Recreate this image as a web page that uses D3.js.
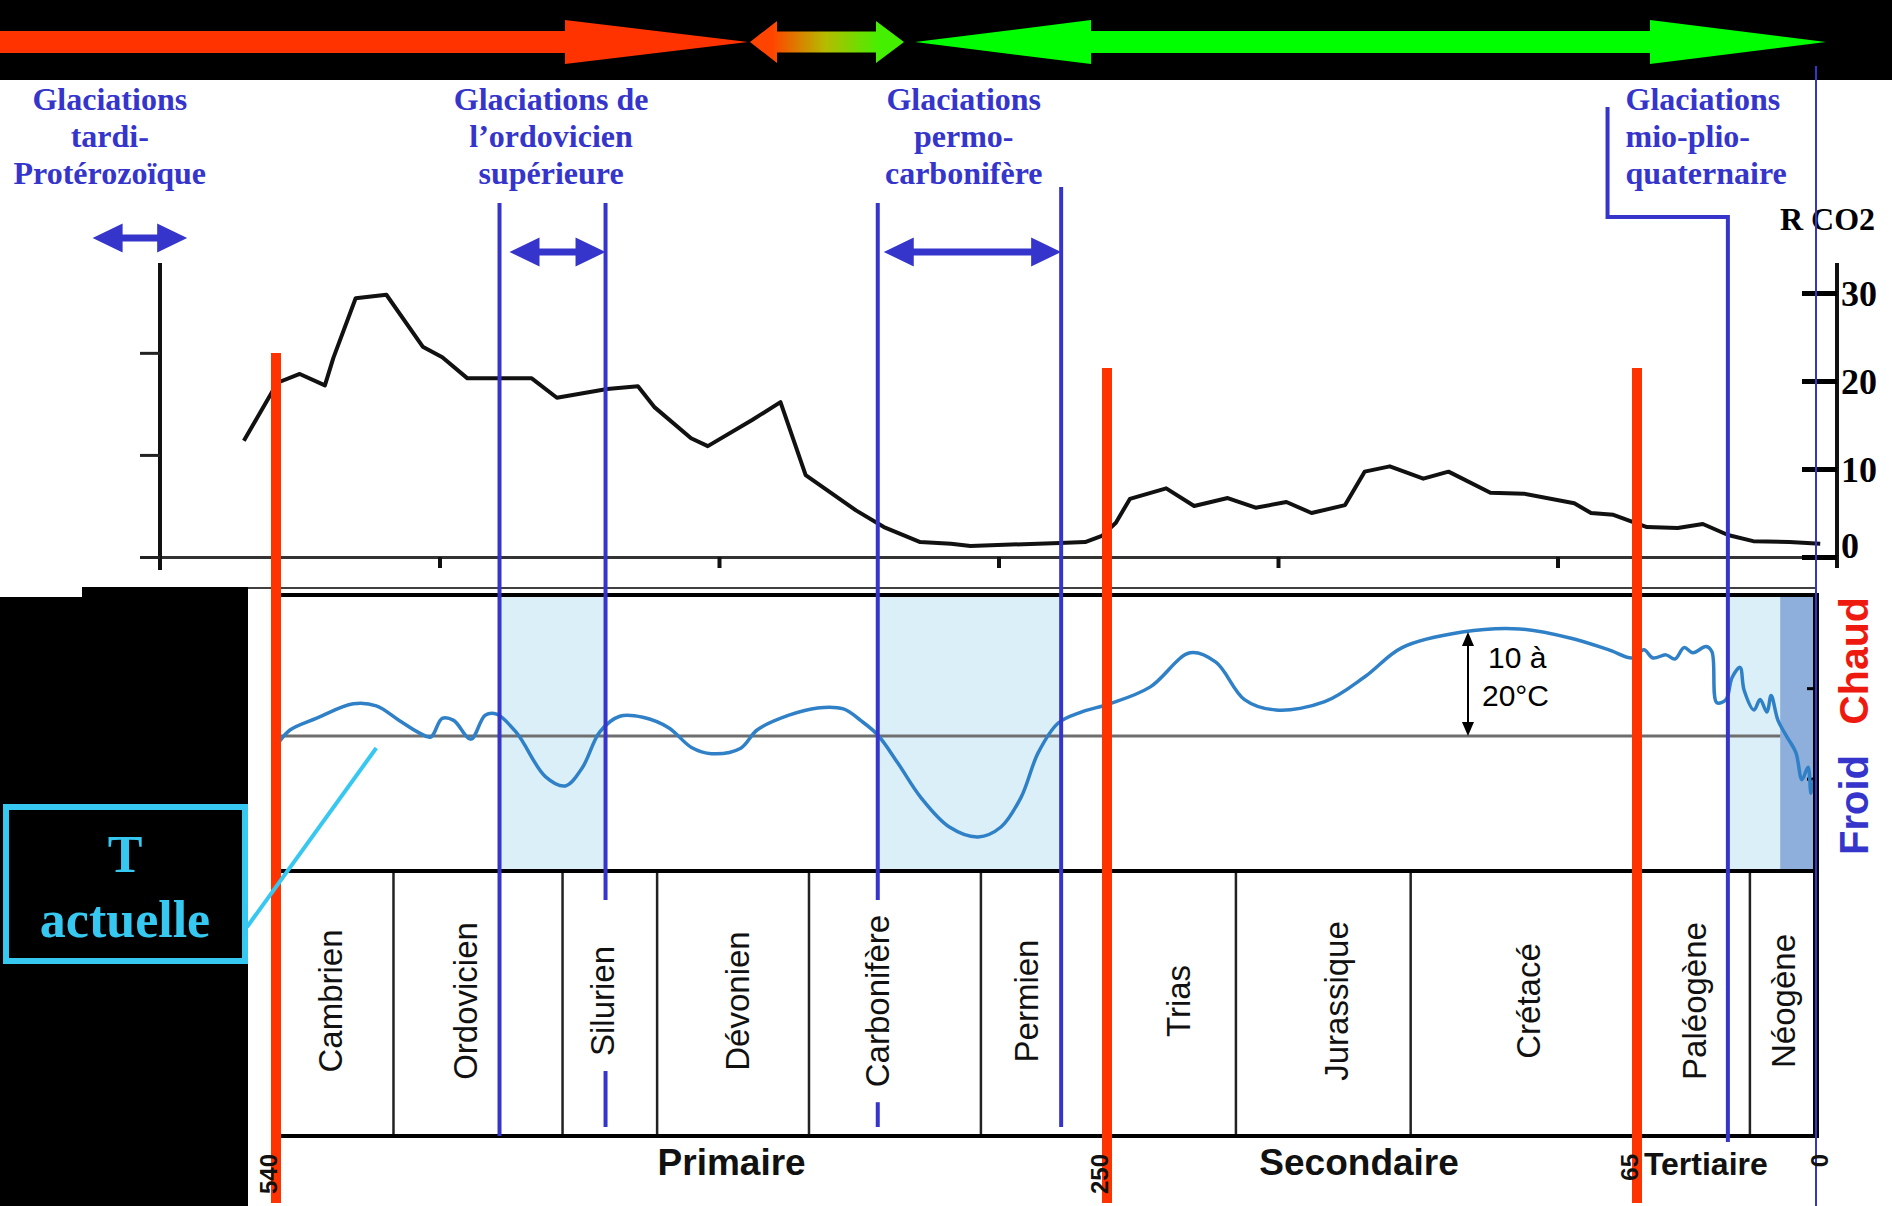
<!DOCTYPE html>
<html>
<head>
<meta charset="utf-8">
<script src="https://cdn.jsdelivr.net/npm/d3@7"></script>
<style>
body { margin: 0; background: #fff; }
svg { display: block; }
.serif { font-family: "Liberation Serif", "Times New Roman", serif; font-weight: bold; }
.sans { font-family: "Liberation Sans", Arial, sans-serif; }
</style>
</head>
<body>
<script>
// R CO2 (courbe du haut) : age en Ma et valeur
const co2Age = [570, 558, 550, 541, 538, 530, 519, 506, 499, 490, 467, 458, 440, 429, 423, 410, 404, 388, 378, 369,
	351, 341, 328, 317, 310, 278, 269, 263, 258, 253, 240, 230, 218, 208, 197, 188, 176, 169, 160, 148,
	139, 124, 112, 94, 88, 80, 68, 57, 48, 39, 30, 17, 6];
const co2Val = [13.2, 19.8, 20.8, 19.5, 22.6, 29.4, 29.8, 23.9, 22.7, 20.3, 20.3, 18.1, 19.1, 19.4, 17.0, 13.5, 12.6, 15.6, 17.6, 9.3,
	5.3, 3.4, 1.7, 1.5, 1.25, 1.6, 1.7, 2.4, 3.9, 6.6, 7.8, 5.8, 6.7, 5.6, 6.25, 5.0, 5.9, 9.7, 10.3, 8.9,
	9.7, 7.3, 7.2, 6.1, 5.0, 4.8, 3.4, 3.3, 3.75, 2.5, 1.8, 1.7, 1.5];
const co2Ticks = [0, 10, 20, 30];
const co2LeftTicks = [0, 11.6, 23.2];
const co2TimeTicks = [100, 200, 300, 400, 500];

// temperature relative a l'actuel (degres)
const tAge = [539, 535, 526, 513, 505, 497, 490, 486, 482, 478, 472, 467, 463, 456, 446, 439, 433, 427, 420, 412,
	403, 395, 388, 378, 372, 361, 351, 342, 336, 330, 323, 315, 305, 295, 287, 280, 274, 267, 259, 249,
	235, 221, 212, 202, 191, 174, 160, 147, 126, 106, 88, 75, 66.5, 62.5, 59.2, 54.5, 51.2, 47.9, 44.7, 39.9,
	37.8, 36.0, 32.7, 30.5, 27.6, 26.1, 22.5, 20.3, 17.8, 16.3, 13.8, 10.5, 7.3, 5.1, 2.9, 1.8, 0.7];
const tVal = [-0.6, 0.6, 1.7, 3.1, 2.9, 1.5, 0.3, -0.1, 1.7, 1.5, -0.3, 2.0, 2.1, 0.3, -3.9, -4.8, -3.0, 0.4, 1.9, 1.8,
	0.8, -1.1, -1.7, -1.2, 0.6, 2.0, 2.7, 2.6, 1.5, 0.1, -2.6, -5.9, -8.75, -9.7, -8.75, -5.9, -1.6, 1.25, 2.3, 3.1,
	4.7, 8.0, 7.1, 3.5, 2.5, 3.3, 5.7, 8.5, 10.0, 10.3, 9.4, 8.3, 7.5, 8.3, 7.5, 7.8, 7.4, 8.5, 8.0, 8.6,
	8.1, 3.2, 3.5, 5.6, 6.6, 4.4, 2.5, 3.5, 2.3, 3.9, 1.5, -0.1, -1.6, -4.2, -3.0, -5.5, -4.2];
const tTicks = [-4.1, 4.6];

// periodes
const periods = ['Cambrien', 'Ordovicien', 'Silurien', 'Dévonien', 'Carbonifère', 'Permien', 'Trias', 'Jurassique', 'Crétacé', 'Paléogène', 'Néogène'];
const periodBounds = [540, 499, 440, 407, 354, 294, 250, 205, 144, 65, 24, 0];
const periodLabelAge = [521, 474, 426, 379, 330, 278, 225, 170, 103, 44, 12];
const eras = ['Primaire', 'Secondaire', 'Tertiaire'];
const eraLabelAge = [381, 162, 40];
const ageMarks = [540, 250, 65, 0];
const crises = [540, 250, 65];

// glaciations
const glacNames = [['Glaciations', 'tardi-', 'Protérozoïque'], ['Glaciations de', 'l\u2019ordovicien', 'supérieure'],
	['Glaciations', 'permo-', 'carbonifère'], ['Glaciations', 'mio-plio-', 'quaternaire']];
const glacStart = [604, 462, 330, 32];
const glacEnd = [571, 425, 266, 0];
const glacLabelAge = [598, 444, 300, 69];
const coldBand = [13, 0];
const ampValue = [0, 10];
const ampAge = 124;

const W = 1892, H = 1206;
const blue = '#3535cc', red = '#ff3300';

const svg = d3.select('body').append('svg')
	.attr('width', W)
	.attr('height', H);

svg.append('rect').attr('width', W).attr('height', H).attr('fill', '#fff');
svg.append('rect').attr('width', W).attr('height', 80).attr('fill', '#000');
svg.append('rect').attr('x', 0).attr('y', 597).attr('width', 248).attr('height', H - 597).attr('fill', '#000');
svg.append('rect').attr('x', 82).attr('y', 587).attr('width', 166).attr('height', 12).attr('fill', '#000');

// echelle de temps commune (Ma)
const time = d3.scaleLinear().domain(ageMarks).range([276, 1107, 1637, 1816]);

// ---------- fleches du bandeau ----------
const defs = svg.append('defs');
const grad = defs.append('linearGradient').attr('id', 'grad')
	.attr('gradientUnits', 'userSpaceOnUse')
	.attr('x1', 772).attr('x2', 880).attr('y1', 0).attr('y2', 0);
grad.append('stop').attr('offset', 0).attr('stop-color', '#ff4400');
grad.append('stop').attr('offset', 0.5).attr('stop-color', '#b4bd00');
grad.append('stop').attr('offset', 1).attr('stop-color', '#44f000');

function arrowPts(x0, x1, yc, shaft, head, len0, len1) {
	const p = [];
	if (len0 > 0) {
		p.push([x0, yc], [x0 + len0, yc - head], [x0 + len0, yc - shaft]);
	} else {
		p.push([x0, yc - shaft]);
	}
	p.push([x1 - len1, yc - shaft], [x1 - len1, yc - head], [x1, yc], [x1 - len1, yc + head], [x1 - len1, yc + shaft]);
	if (len0 > 0) {
		p.push([x0 + len0, yc + shaft], [x0 + len0, yc + head]);
	} else {
		p.push([x0, yc + shaft]);
	}
	return p.map(function(d) { return d.join(','); }).join(' ');
}

svg.append('polygon').attr('points', arrowPts(0, 748, 42, 11, 22, 0, 183)).attr('fill', red);
svg.append('polygon').attr('points', arrowPts(750, 904, 42, 10.5, 21, 27, 28)).attr('fill', 'url(#grad)');
svg.append('polygon').attr('points', arrowPts(915, 1826, 42, 11, 22, 176, 176)).attr('fill', '#00ff00');

// ---------- graphe R CO2 ----------
const xCo2 = d3.scaleLinear().domain([600, 0]).range([160, 1837]);
const yCo2 = d3.scaleLinear().domain([0, 30]).range([557, 293]);

const xAxis = svg.append('g')
	.attr('transform', 'translate(0,' + yCo2(0) + ')')
	.call(d3.axisBottom(xCo2).tickValues(co2TimeTicks).tickSize(11).tickSizeOuter(0).tickFormat(''));
xAxis.select('.domain').attr('stroke', '#333').attr('stroke-width', 3);
xAxis.selectAll('.tick line').attr('stroke', '#111').attr('stroke-width', 4);

svg.append('line').attr('x1', xCo2(600)).attr('x2', xCo2(600)).attr('y1', 263).attr('y2', 570)
	.attr('stroke', '#111').attr('stroke-width', 4);
svg.append('line').attr('x1', xCo2(0)).attr('x2', xCo2(0)).attr('y1', 263).attr('y2', 568)
	.attr('stroke', '#111').attr('stroke-width', 4);

const leftAxis = svg.append('g')
	.attr('transform', 'translate(' + xCo2(600) + ',0)')
	.call(d3.axisLeft(yCo2).tickValues(co2LeftTicks).tickSize(20).tickFormat(''));
leftAxis.select('.domain').remove();
leftAxis.selectAll('.tick line').attr('stroke', '#222').attr('stroke-width', 3);

const rightAxis = svg.append('g')
	.attr('class', 'serif')
	.attr('transform', 'translate(' + xCo2(0) + ',0)')
	.call(d3.axisRight(yCo2).tickValues(co2Ticks).tickSize(-35).tickPadding(4));
rightAxis.select('.domain').remove();
rightAxis.selectAll('.tick line').attr('stroke', '#000').attr('stroke-width', 5);
rightAxis.selectAll('.tick text')
	.attr('font-family', '"Liberation Serif", "Times New Roman", serif')
	.attr('font-weight', 'bold')
	.attr('font-size', 36)
	.attr('fill', '#000')
	.attr('dy', function(d) { return d === 0 ? '0.0em' : '0.36em'; });

svg.append('text').attr('class', 'serif')
	.attr('x', 1780).attr('y', 230)
	.attr('font-size', 32).attr('fill', '#000')
	.text('R CO2');

const co2Line = d3.line()
	.x(function(d, i) { return xCo2(co2Age[i]); })
	.y(function(d) { return yCo2(d); });

svg.append('path')
	.datum(co2Val)
	.attr('d', co2Line)
	.attr('fill', 'none')
	.attr('stroke', '#111')
	.attr('stroke-width', 4)
	.attr('stroke-linejoin', 'round');

// ---------- cadre du graphe du bas ----------
const panelTop = 595, tempBottom = 871, periodBottom = 1136;
const yT = d3.scaleLinear().domain([-10, 10]).range([840, 632]);

svg.append('line').attr('x1', 248).attr('x2', time(0)).attr('y1', 588).attr('y2', 588)
	.attr('stroke', '#000').attr('stroke-width', 1.5);

// bandes glaciaires
glacStart.forEach(function(s, i) {
	if (i === 0) return;
	svg.append('rect')
		.attr('x', time(s)).attr('y', panelTop)
		.attr('width', time(glacEnd[i]) - time(s))
		.attr('height', tempBottom - panelTop)
		.attr('fill', '#dbeff9');
});
svg.append('rect')
	.attr('x', time(coldBand[0])).attr('y', panelTop)
	.attr('width', time(coldBand[1]) - time(coldBand[0]))
	.attr('height', tempBottom - panelTop)
	.attr('fill', '#8eaedb');

svg.append('line')
	.attr('x1', time(540)).attr('x2', time(coldBand[0]))
	.attr('y1', yT(0)).attr('y2', yT(0))
	.attr('stroke', '#6e6e6e').attr('stroke-width', 3);

const tAxis = svg.append('g')
	.attr('transform', 'translate(' + time(0) + ',0)')
	.call(d3.axisLeft(yT).tickValues(tTicks).tickSize(9).tickFormat(''));
tAxis.select('.domain').remove();
tAxis.selectAll('.tick line').attr('stroke', '#000').attr('stroke-width', 3);

const tLine = d3.line()
	.x(function(d, i) { return time(tAge[i]); })
	.y(function(d) { return yT(d); })
	.curve(d3.curveCatmullRom.alpha(0.5));

svg.append('path')
	.datum(tVal)
	.attr('d', tLine)
	.attr('fill', 'none')
	.attr('stroke', '#2f80c6')
	.attr('stroke-width', 3.5)
	.attr('stroke-linejoin', 'round');

// fleche 10 a 20 C
const ax = time(ampAge);
svg.append('line').attr('x1', ax).attr('x2', ax).attr('y1', yT(ampValue[1]) + 10).attr('y2', yT(ampValue[0]) - 10)
	.attr('stroke', '#000').attr('stroke-width', 2);
svg.append('polygon').attr('points', [[ax, yT(ampValue[1])], [ax - 6, yT(ampValue[1]) + 14], [ax + 6, yT(ampValue[1]) + 14]].join(' ')).attr('fill', '#000');
svg.append('polygon').attr('points', [[ax, yT(ampValue[0])], [ax - 6, yT(ampValue[0]) - 14], [ax + 6, yT(ampValue[0]) - 14]].join(' ')).attr('fill', '#000');
svg.append('text').attr('class', 'sans').attr('x', ax + 20).attr('y', 668).attr('font-size', 30).text('10 à');
svg.append('text').attr('class', 'sans').attr('x', ax + 14).attr('y', 706).attr('font-size', 30).text('20°C');

svg.append('text').attr('class', 'sans')
	.attr('transform', 'translate(1868,661) rotate(-90)')
	.attr('text-anchor', 'middle').attr('font-size', 41).attr('font-weight', 'bold')
	.attr('fill', '#ee1a10').text('Chaud');
svg.append('text').attr('class', 'sans')
	.attr('transform', 'translate(1868,805) rotate(-90)')
	.attr('text-anchor', 'middle').attr('font-size', 40).attr('font-weight', 'bold')
	.attr('fill', blue).text('Froid');

// periodes
periodBounds.slice(1, -1).forEach(function(a) {
	svg.append('line')
		.attr('x1', time(a)).attr('x2', time(a))
		.attr('y1', tempBottom).attr('y2', periodBottom)
		.attr('stroke', '#222').attr('stroke-width', 2.5);
});

const periodLabels = periods.map(function(p, i) {
	const cx = time(periodLabelAge[i]);
	const t = svg.append('text').attr('class', 'sans')
		.attr('transform', 'translate(' + cx + ',1001) rotate(-90)')
		.attr('text-anchor', 'middle')
		.attr('dy', '0.35em')
		.attr('font-size', 33)
		.attr('fill', '#111')
		.text(p);
	const len = t.node().getComputedTextLength();
	return { cx: cx, top: 1001 - len / 2, bottom: 1001 + len / 2 };
});

svg.append('line').attr('x1', time(540)).attr('x2', time(0)).attr('y1', panelTop).attr('y2', panelTop)
	.attr('stroke', '#000').attr('stroke-width', 4);
svg.append('line').attr('x1', time(540)).attr('x2', time(0)).attr('y1', tempBottom).attr('y2', tempBottom)
	.attr('stroke', '#000').attr('stroke-width', 4);
svg.append('line').attr('x1', time(540)).attr('x2', time(0)).attr('y1', periodBottom).attr('y2', periodBottom)
	.attr('stroke', '#000').attr('stroke-width', 4);
svg.append('line').attr('x1', time(0)).attr('x2', time(0)).attr('y1', panelTop - 2).attr('y2', periodBottom + 2)
	.attr('stroke', '#000').attr('stroke-width', 6);

eras.forEach(function(e, i) {
	svg.append('text').attr('class', 'sans')
		.attr('x', time(eraLabelAge[i])).attr('y', 1175)
		.attr('text-anchor', 'middle')
		.attr('font-size', i === 2 ? 32 : 37)
		.attr('font-weight', 'bold')
		.attr('fill', '#111')
		.text(e);
});

// ---------- glaciations ----------
function dblArrow(x0, x1, y) {
	svg.append('polygon').attr('points', arrowPts(x0, x1, y, 3.5, 14.5, 30, 30)).attr('fill', blue);
}
dblArrow(time(glacStart[0]), time(glacEnd[0]), 238);
dblArrow(time(glacStart[1]) + 10, time(glacEnd[1]), 252);
dblArrow(time(glacStart[2]) + 6, time(glacEnd[2]), 252);

glacNames.forEach(function(lines, i) {
	const t = svg.append('text').attr('class', 'serif')
		.attr('x', time(glacLabelAge[i]))
		.attr('text-anchor', i === 3 ? 'start' : 'middle')
		.attr('font-size', 32)
		.attr('fill', blue);
	lines.forEach(function(l, j) {
		t.append('tspan').attr('x', time(glacLabelAge[i])).attr('y', 110 + j * 37).text(l);
	});
});

function vSeg(x, y1, y2, w) {
	svg.append('line').attr('x1', x).attr('x2', x).attr('y1', y1).attr('y2', y2)
		.attr('stroke', blue).attr('stroke-width', w);
}

// lignes verticales bleues (debut et fin des glaciations)
const glacLines = [
	{ age: glacStart[1], top: 203, bottom: periodBottom },
	{ age: glacEnd[1], top: 203, bottom: 1127 },
	{ age: glacStart[2], top: 203, bottom: 1127 },
	{ age: glacEnd[2], top: 187, bottom: 1127 }
];
glacLines.forEach(function(g) {
	const x = time(g.age);
	const hit = periodLabels.find(function(p) { return Math.abs(p.cx - x) < 16; });
	if (hit) {
		vSeg(x, g.top, 900, 4);
		vSeg(x, hit.bottom + 15, g.bottom, 4);
	} else {
		vSeg(x, g.top, g.bottom, 4);
	}
});

// crochet mio-plio-quaternaire
const mx = time(glacStart[3]);
const lx = time(glacLabelAge[3]) - 18;
svg.append('path')
	.attr('d', 'M' + lx + ',107 L' + lx + ',217 L' + mx + ',217 L' + mx + ',1142')
	.attr('fill', 'none')
	.attr('stroke', blue)
	.attr('stroke-width', 4);

// limite actuelle
vSeg(time(0), 66, H, 2);

// crises (lignes rouges)
crises.forEach(function(a, i) {
	svg.append('line')
		.attr('x1', time(a)).attr('x2', time(a))
		.attr('y1', i === 0 ? 353 : 368).attr('y2', 1203)
		.attr('stroke', red).attr('stroke-width', 10);
});

ageMarks.forEach(function(a) {
	svg.append('text').attr('class', 'sans')
		.attr('transform', 'translate(' + (time(a) + (a === 0 ? 4 : -7)) + ',1154) rotate(-90)')
		.attr('text-anchor', 'end')
		.attr('dy', '0.35em')
		.attr('font-size', 24)
		.attr('font-weight', 'bold')
		.attr('fill', '#111')
		.text(a);
});

// T actuelle
svg.append('line')
	.attr('x1', time(505)).attr('y1', yT(0) + 12)
	.attr('x2', 247).attr('y2', 927)
	.attr('stroke', '#36c8f0').attr('stroke-width', 4);
svg.append('rect').attr('x', 6).attr('y', 807).attr('width', 239).attr('height', 154)
	.attr('fill', 'none').attr('stroke', '#36c8f0').attr('stroke-width', 6);
svg.append('text').attr('class', 'serif').attr('x', 125).attr('y', 872)
	.attr('text-anchor', 'middle').attr('font-size', 52).attr('fill', '#36c8f0').text('T');
svg.append('text').attr('class', 'serif').attr('x', 125).attr('y', 937)
	.attr('text-anchor', 'middle').attr('font-size', 52).attr('fill', '#36c8f0').text('actuelle');
</script>
</body>
</html>
